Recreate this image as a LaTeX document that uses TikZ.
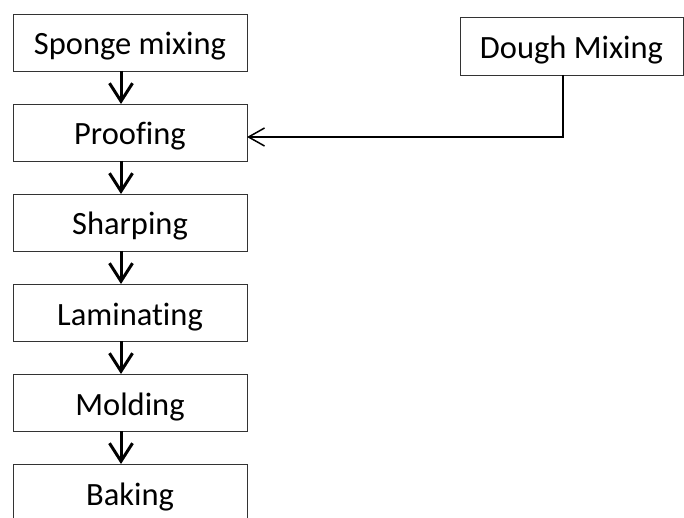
\documentclass[tikz,border=0pt]{standalone}
\usepackage{fontspec}
\setmainfont{Carlito}[Ligatures=NoCommon]
\usetikzlibrary{positioning,arrows.meta}

\begin{document}
\begin{tikzpicture}[x=1pt, y=1pt, node distance=33pt,
    every node/.style={font=\fontsize{32.5}{38}\selectfont},
    stage/.style={draw=black!80, line width=0.9pt, minimum width=234pt, minimum height=57pt, inner sep=0pt, outer sep=0pt, text height=25pt, text depth=0pt},
    flow/.style={line width=3pt, -{Straight Barb[length=18pt, width=23pt]}}]
    \useasboundingbox (0,0) rectangle (684,-518);
    \node[stage] (sponge) at (130,-42.5) {Sponge mixing};
    \node[stage, below=of sponge] (proof) {Proofing};
    \node[stage, below=of proof] (sharp) {Sharping};
    \node[stage, below=of sharp] (lamin) {Laminating};
    \node[stage, below=of lamin] (mold) {Molding};
    \node[stage, below=of mold] (bake) {Baking};
    \node[stage, minimum width=223pt, minimum height=58pt] (dough) at (571.5,-46) {Dough Mixing};
    \coordinate (bend) at (563,-137);

    \draw[flow] ([xshift=-9pt]sponge.south) -- ([xshift=-9pt]proof.north);
    \draw[flow] ([xshift=-9pt]proof.south) -- ([xshift=-9pt]sharp.north);
    \draw[flow] ([xshift=-9pt]sharp.south) -- ([xshift=-9pt]lamin.north);
    \draw[flow] ([xshift=-9pt]lamin.south) -- ([xshift=-9pt]mold.north);
    \draw[flow] ([xshift=-9pt]mold.south) -- ([xshift=-9pt]bake.north);
    \draw[line width=1.5pt, -{Straight Barb[length=16pt, width=18pt]}] (dough.south -| bend) -- (bend) -- (proof.east |- bend);
\end{tikzpicture}
\end{document}
